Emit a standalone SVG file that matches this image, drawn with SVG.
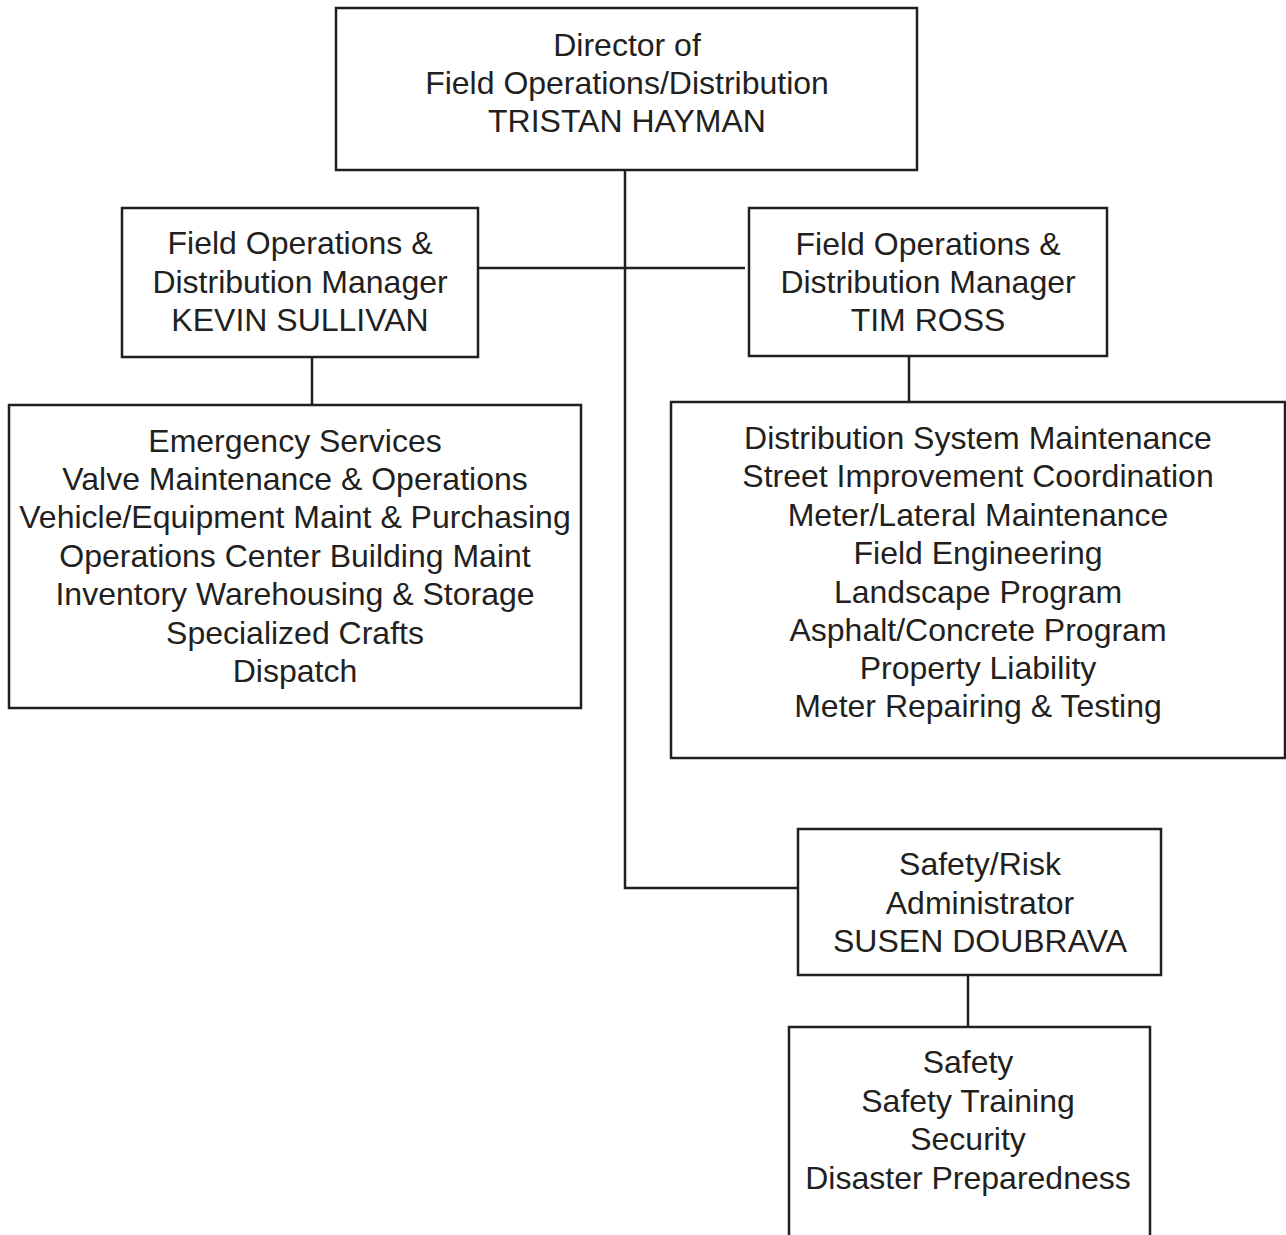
<svg xmlns="http://www.w3.org/2000/svg" width="1286" height="1235" viewBox="0 0 1286 1235">
<style>
.box{fill:#fff;stroke:#231f20;stroke-width:2.5}
.ln{fill:none;stroke:#231f20;stroke-width:2.5}
text{font-family:"Liberation Sans",Arial,sans-serif;font-size:32px;fill:#231f20;text-anchor:middle}
</style>
<rect width="1286" height="1235" fill="#fff"/>
<g id="connectors">
<polyline class="ln" points="625,170 625,888 798,888"/>
<line class="ln" x1="478" y1="268" x2="745" y2="268"/>
<line class="ln" x1="312" y1="357" x2="312" y2="405"/>
<line class="ln" x1="909" y1="356" x2="909" y2="402"/>
<line class="ln" x1="968" y1="975" x2="968" y2="1027"/>
</g>
<g id="director">
<rect class="box" x="336" y="8" width="581" height="162"/>
<text x="627" y="56">Director of</text>
<text x="627" y="94">Field Operations/Distribution</text>
<text x="627" y="132">TRISTAN HAYMAN</text>
</g>
<g id="mgr-sullivan">
<rect class="box" x="122" y="208" width="356" height="149"/>
<text x="300" y="254">Field Operations &amp;</text>
<text x="300" y="293">Distribution Manager</text>
<text x="300" y="331">KEVIN SULLIVAN</text>
</g>
<g id="mgr-ross">
<rect class="box" x="749" y="208" width="358" height="148"/>
<text x="928" y="255">Field Operations &amp;</text>
<text x="928" y="293">Distribution Manager</text>
<text x="928" y="331">TIM ROSS</text>
</g>
<g id="list-sullivan">
<rect class="box" x="9" y="405" width="572" height="303"/>
<text x="295" y="452">Emergency Services</text>
<text x="295" y="490">Valve Maintenance &amp; Operations</text>
<text x="295" y="528">Vehicle/Equipment Maint &amp; Purchasing</text>
<text x="295" y="567">Operations Center Building Maint</text>
<text x="295" y="605">Inventory Warehousing &amp; Storage</text>
<text x="295" y="644">Specialized Crafts</text>
<text x="295" y="682">Dispatch</text>
</g>
<g id="list-ross">
<rect class="box" x="671" y="402" width="614" height="356"/>
<text x="978" y="449">Distribution System Maintenance</text>
<text x="978" y="487">Street Improvement Coordination</text>
<text x="978" y="526">Meter/Lateral Maintenance</text>
<text x="978" y="564">Field Engineering</text>
<text x="978" y="603">Landscape Program</text>
<text x="978" y="641">Asphalt/Concrete Program</text>
<text x="978" y="679">Property Liability</text>
<text x="978" y="717">Meter Repairing &amp; Testing</text>
</g>
<g id="safety-admin">
<rect class="box" x="798" y="829" width="363" height="146"/>
<text x="980" y="875">Safety/Risk</text>
<text x="980" y="914">Administrator</text>
<text x="980" y="952">SUSEN DOUBRAVA</text>
</g>
<g id="list-safety">
<path class="ln" d="M789,1240 V1027 H1150 V1240"/>
<text x="968" y="1073">Safety</text>
<text x="968" y="1112">Safety Training</text>
<text x="968" y="1150">Security</text>
<text x="968" y="1189">Disaster Preparedness</text>
</g>
</svg>
